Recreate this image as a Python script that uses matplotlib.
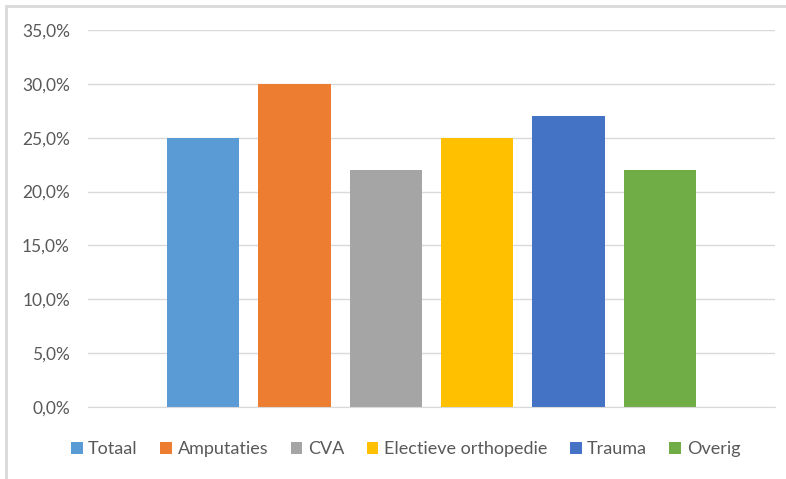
# Bar chart, Excel style, percentages per category
import numpy as np
import matplotlib.pyplot as plt
from matplotlib.patches import Rectangle
from matplotlib.ticker import FuncFormatter

categories = ['Totaal', 'Amputaties', 'CVA', 'Electieve orthopedie', 'Trauma', 'Overig']
values = [25.0, 30.0, 22.0, 25.0, 27.0, 22.0]
colors = ['#5B9BD5', '#ED7D31', '#A5A5A5', '#FFC000', '#4472C4', '#70AD47']
yticks = [0, 5, 10, 15, 20, 25, 30, 35]

plt.rcParams['font.family'] = ['Lato', 'DejaVu Sans']
txt = '#595959'

fig = plt.figure(figsize=(7.86, 4.79), dpi=100)
ax = fig.add_axes([88/786, 1-407/479, (775-88)/786, (407-30)/479])

x = np.arange(len(categories))
for i in range(len(categories)):
    ax.bar(x[i], values[i], width=0.79, color=colors[i], label=categories[i], zorder=2)

ax.set_xlim(-1.26, len(categories) - 1 + 1.26)
ax.set_ylim(0, 35)
ax.set_yticks(yticks)
ax.yaxis.set_major_formatter(FuncFormatter(lambda v, p: ('%.1f%%' % v).replace('.', ',')))
ax.set_xticks([])
ax.grid(axis='y', color='#D9D9D9', lw=1, zorder=0)
for s in ['top', 'right', 'left']:
    ax.spines[s].set_visible(False)
ax.spines['bottom'].set_color('#D9D9D9')
ax.tick_params(axis='y', length=0, pad=13, labelsize=12.5, labelcolor=txt)

fig.legend(loc='center', bbox_to_anchor=(0.516, 1-449/479), ncol=6, frameon=False,
           fontsize=13, labelcolor=txt, handlelength=0.65, handleheight=0.65,
           handletextpad=0.3, columnspacing=1.25)

# Chart border like the Excel chart area
fig.patches.append(Rectangle((6/786, -0.05), 1.0, 1.05 - 6/479, transform=fig.transFigure,
                             fill=False, ec='#D9D9D9', lw=2))

plt.savefig('out.png')
